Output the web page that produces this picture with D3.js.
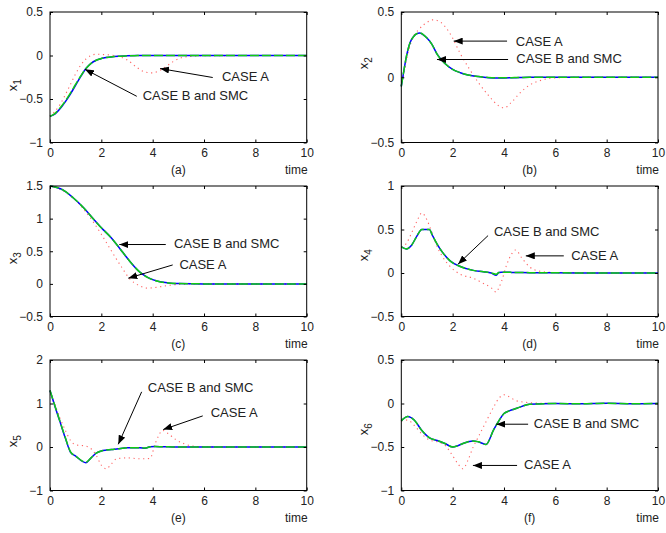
<!DOCTYPE html>
<html>
<head>
<meta charset="utf-8">
<script src="https://cdn.jsdelivr.net/npm/d3@7"></script>
<style>
  body { margin: 0; background: #fff; }
  svg { display: block; font-family: "Liberation Sans", Arial, Helvetica, sans-serif; }
</style>
</head>
<body>
<div class="container"></div>
<script>
const W = 666;
const H = 533;

// time ticks shared by every panel
const timeTicks = [0, 2, 4, 6, 8, 10];

// (a) x1
const timeA = [0, 0.2, 0.4, 0.6, 0.8, 1.0, 1.2, 1.4, 1.6, 1.8, 2.0, 2.5, 3.0, 3.4, 3.7, 4.0, 4.4, 4.8, 5.2, 6, 8, 10];
const x1CaseA = [-0.7, -0.64, -0.56, -0.45, -0.33, -0.21, -0.11, -0.04, 0.0, 0.015, 0.012, 0.0, -0.05, -0.14, -0.19, -0.2, -0.15, -0.07, -0.02, -0.003, 0, 0];
const x1Smc = [-0.7, -0.67, -0.61, -0.53, -0.44, -0.34, -0.24, -0.15, -0.09, -0.055, -0.035, -0.012, -0.004, -0.001, 0, 0, 0, 0, 0, 0, 0, 0];
const x1CaseB = [-0.7, -0.665, -0.6, -0.52, -0.43, -0.33, -0.235, -0.15, -0.09, -0.055, -0.035, -0.012, -0.004, -0.001, 0, 0, 0, 0, 0, 0, 0, 0];

// (b) x2
const timeB = [0, 0.1, 0.2, 0.4, 0.7, 1.0, 1.2, 1.4, 1.7, 2.0, 2.3, 2.6, 3.0, 3.4, 3.8, 4.0, 4.3, 4.6, 5.0, 5.5, 6, 7, 8, 10];
const x2CaseA = [-0.07, 0.03, 0.13, 0.28, 0.37, 0.42, 0.44, 0.435, 0.39, 0.3, 0.18, 0.08, -0.04, -0.14, -0.22, -0.235, -0.19, -0.125, -0.06, -0.02, -0.005, 0, 0, 0];
const x2Smc = [-0.07, 0.05, 0.16, 0.29, 0.34, 0.3, 0.25, 0.175, 0.105, 0.06, 0.035, 0.018, 0.005, -0.003, -0.005, -0.005, -0.004, -0.002, 0, 0, 0, 0, 0, 0];
const x2CaseB = [-0.07, 0.05, 0.16, 0.29, 0.34, 0.3, 0.25, 0.175, 0.105, 0.06, 0.035, 0.018, 0.005, -0.002, -0.004, -0.004, -0.003, -0.002, 0, 0, 0, 0, 0, 0];

// (c) x3
const timeC = [0, 0.5, 0.9, 1.3, 1.7, 2.0, 2.4, 2.8, 3.1, 3.5, 3.8, 4.2, 4.6, 5.0, 6, 8, 10];
const x3CaseA = [1.5, 1.43, 1.32, 1.15, 0.94, 0.76, 0.5, 0.25, 0.08, -0.03, -0.065, -0.05, -0.025, -0.008, 0, 0, 0];
const x3Smc = [1.5, 1.44, 1.32, 1.17, 0.99, 0.86, 0.7, 0.5, 0.35, 0.18, 0.1, 0.04, 0.015, 0.005, 0, 0, 0];
const x3CaseB = [1.5, 1.44, 1.32, 1.17, 0.99, 0.86, 0.7, 0.5, 0.35, 0.18, 0.1, 0.04, 0.015, 0.005, 0, 0, 0];

// (d) x4
const timeD = [0, 0.2, 0.4, 0.6, 0.8, 1.0, 1.1, 1.2, 1.4, 1.6, 1.9, 2.3, 2.8, 3.2, 3.5, 3.7, 3.8, 3.9, 4.1, 4.3, 4.45, 4.7, 5.0, 5.4, 6, 8, 10];
const x4CaseA = [0.3, 0.34, 0.46, 0.59, 0.69, 0.61, 0.54, 0.46, 0.3, 0.19, 0.075, -0.015, -0.06, -0.12, -0.17, -0.22, -0.17, -0.1, 0.09, 0.22, 0.265, 0.17, 0.07, 0.02, 0.005, 0, 0];
const x4Smc = [0.3, 0.277, 0.32, 0.42, 0.5, 0.5, 0.5, 0.44, 0.33, 0.24, 0.14, 0.075, 0.03, 0.015, 0.0, -0.025, 0.005, 0.008, 0.008, 0.007, 0.006, 0.005, 0.004, 0.003, 0.002, 0, 0];
const x4CaseB = [0.3, 0.277, 0.32, 0.42, 0.5, 0.5, 0.5, 0.44, 0.33, 0.24, 0.14, 0.075, 0.03, 0.015, 0.002, -0.015, 0.006, 0.008, 0.008, 0.007, 0.006, 0.005, 0.004, 0.003, 0.002, 0, 0];

// (e) x5
const timeE = [0, 0.2, 0.4, 0.6, 0.8, 1.0, 1.4, 1.6, 1.8, 2.0, 2.2, 2.4, 2.6, 3.0, 3.5, 3.7, 3.9, 4.1, 4.4, 4.6, 4.9, 5.2, 5.6, 6, 8, 10];
const x5CaseA = [1.3, 0.96, 0.65, 0.38, 0.15, 0.05, 0.02, -0.04, -0.19, -0.42, -0.5, -0.38, -0.27, -0.25, -0.27, -0.27, -0.26, 0.08, 0.38, 0.31, 0.17, 0.08, 0.02, 0.005, 0, 0];
const x5Smc = [1.3, 0.92, 0.56, 0.2, -0.12, -0.21, -0.36, -0.25, -0.14, -0.09, -0.07, -0.055, -0.045, -0.02, -0.015, -0.03, 0.005, 0.01, 0.005, 0.003, 0.002, 0, 0, 0, 0, 0];
const x5CaseB = [1.3, 0.93, 0.57, 0.21, -0.11, -0.21, -0.35, -0.25, -0.14, -0.09, -0.07, -0.055, -0.045, -0.02, -0.015, -0.025, 0.005, 0.01, 0.005, 0.003, 0.002, 0, 0, 0, 0, 0];

// (f) x6
const timeF = [0, 0.25, 0.5, 0.8, 1.1, 1.4, 1.7, 2.0, 2.2, 2.4, 2.6, 2.8, 3.0, 3.3, 3.6, 3.8, 4.0, 4.2, 4.5, 5.0, 6, 7, 8, 9, 10];
const x6CaseA = [-0.2, -0.19, -0.25, -0.35, -0.42, -0.44, -0.48, -0.6, -0.69, -0.75, -0.65, -0.5, -0.385, -0.21, -0.04, 0.06, 0.1, 0.077, 0.03, 0.01, 0, 0, 0, 0, 0];
const x6Smc = [-0.2, -0.15, -0.19, -0.31, -0.395, -0.425, -0.46, -0.5, -0.485, -0.46, -0.44, -0.43, -0.44, -0.47, -0.3, -0.2, -0.115, -0.085, -0.055, -0.01, 0, -0.003, 0.003, -0.002, 0];
const x6CaseB = [-0.2, -0.15, -0.19, -0.31, -0.395, -0.425, -0.46, -0.5, -0.485, -0.46, -0.44, -0.43, -0.44, -0.47, -0.3, -0.2, -0.115, -0.085, -0.055, -0.01, 0, -0.003, 0.003, -0.002, 0];

// y axis ranges and ticks
const yDomains = [[-1, 0.5], [-0.5, 0.5], [-0.5, 1.5], [-0.5, 1], [-1, 2], [-1, 0.5]];
const yTicks = [
    [-1, -0.5, 0, 0.5],
    [-0.5, 0, 0.5],
    [-0.5, 0, 0.5, 1, 1.5],
    [-0.5, 0, 0.5, 1],
    [-1, 0, 1, 2],
    [-1, -0.5, 0, 0.5]
];
const panelTags = ['(a)', '(b)', '(c)', '(d)', '(e)', '(f)'];
const stateIdx = ['1', '2', '3', '4', '5', '6'];

// annotations in data units: label position, arrow tail, arrow head
const notes = [
    [
        { text: 'CASE A', tx: 6.70, ty: -0.296, x1: 6.34, y1: -0.253, x2: 4.29, y2: -0.15 },
        { text: 'CASE B and SMC', tx: 3.61, ty: -0.515, x1: 3.38, y1: -0.469, x2: 1.36, y2: -0.158 }
    ],
    [
        { text: 'CASE A', tx: 4.46, ty: 0.242, x1: 4.12, y1: 0.277, x2: 2.04, y2: 0.277 },
        { text: 'CASE B and SMC', tx: 4.48, ty: 0.108, x1: 4.16, y1: 0.136, x2: 1.39, y2: 0.136 }
    ],
    [
        { text: 'CASE B and SMC', tx: 4.83, ty: 0.551, x1: 4.51, y1: 0.603, x2: 2.70, y2: 0.603 },
        { text: 'CASE A', tx: 5.04, ty: 0.229, x1: 4.78, y1: 0.29, x2: 3.05, y2: 0.087 }
    ],
    [
        { text: 'CASE B and SMC', tx: 3.61, ty: 0.42, x1: 3.38, y1: 0.43, x2: 2.21, y2: 0.102 },
        { text: 'CASE A', tx: 6.62, ty: 0.151, x1: 6.33, y1: 0.197, x2: 4.85, y2: 0.197 }
    ],
    [
        { text: 'CASE B and SMC', tx: 3.81, ty: 1.273, x1: 3.57, y1: 1.268, x2: 2.66, y2: 0.062 },
        { text: 'CASE A', tx: 6.26, ty: 0.685, x1: 5.95, y1: 0.715, x2: 4.41, y2: 0.401 }
    ],
    [
        { text: 'CASE B and SMC', tx: 5.16, ty: -0.285, x1: 4.94, y1: -0.238, x2: 3.70, y2: -0.238 },
        { text: 'CASE A', tx: 4.78, ty: -0.758, x1: 4.51, y1: -0.712, x2: 2.79, y2: -0.712 }
    ]
];

const panels = [
    { time: timeA, a: x1CaseA, s: x1Smc, b: x1CaseB },
    { time: timeB, a: x2CaseA, s: x2Smc, b: x2CaseB },
    { time: timeC, a: x3CaseA, s: x3Smc, b: x3CaseB },
    { time: timeD, a: x4CaseA, s: x4Smc, b: x4CaseB },
    { time: timeE, a: x5CaseA, s: x5Smc, b: x5CaseB },
    { time: timeF, a: x6CaseA, s: x6Smc, b: x6CaseB }
];

// layout
const colX = [50, 401.3];
const rowY = [12, 186, 360];
const pw = 256.7;
const ph = 130.5;
const ylabShift = [8, -14, 7, 4, 16, 4];

const svg = d3.select('.container')
    .append('svg')
    .attr('width', W)
    .attr('height', H);

svg.append('defs').append('marker')
    .attr('id', 'head')
    .attr('viewBox', '0 0 9 7')
    .attr('markerWidth', 9)
    .attr('markerHeight', 7)
    .attr('markerUnits', 'userSpaceOnUse')
    .attr('refX', 9)
    .attr('refY', 3.5)
    .attr('orient', 'auto')
    .append('path')
    .attr('d', 'M0,0 L9,3.5 L0,7 Z')
    .attr('fill', '#000');

const fmt = d => (d < 0 ? '\u2212' : '') + Math.abs(d);

panels.forEach((p, i) => {
    const col = i % 2;
    const row = Math.floor(i / 2);
    const g = svg.append('g')
        .attr('transform', `translate(${colX[col]},${rowY[row]})`);

    const x = d3.scaleLinear().domain([0, 10]).range([0, pw]);
    const y = d3.scaleLinear().domain(yDomains[i]).range([ph, 0]);

    const line = vals => d3.line()
        .x((d, k) => x(p.time[k]))
        .y(d => y(d))
        .curve(d3.curveMonotoneX)(vals);

    g.append('path')
        .attr('d', line(p.a))
        .attr('fill', 'none')
        .attr('stroke', '#ff3030')
        .attr('stroke-width', 1.1)
        .attr('stroke-dasharray', '1.2,3.6')
        .attr('opacity', 0.75);

    g.append('path')
        .attr('d', line(p.s))
        .attr('fill', 'none')
        .attr('stroke', '#0000ff')
        .attr('stroke-width', 1.5);

    g.append('path')
        .attr('d', line(p.b))
        .attr('fill', 'none')
        .attr('stroke', '#11cc11')
        .attr('stroke-width', 1.5)
        .attr('stroke-dasharray', '9,3');

    // box and ticks
    g.append('rect')
        .attr('width', pw)
        .attr('height', ph)
        .attr('fill', 'none')
        .attr('stroke', '#000')
        .attr('stroke-width', 1);

    const tl = 3;
    g.append('g')
        .attr('transform', `translate(0,${ph})`)
        .call(d3.axisBottom(x).tickValues(timeTicks).tickSize(-tl).tickPadding(6).tickFormat(fmt))
        .call(s => s.select('.domain').remove());
    g.append('g')
        .call(d3.axisTop(x).tickValues(timeTicks).tickSize(-tl).tickFormat(''))
        .call(s => s.select('.domain').remove());
    g.append('g')
        .call(d3.axisLeft(y).tickValues(yTicks[i]).tickSize(-tl).tickPadding(7).tickFormat(fmt))
        .call(s => s.select('.domain').remove());
    g.append('g')
        .attr('transform', `translate(${pw},0)`)
        .call(d3.axisRight(y).tickValues(yTicks[i]).tickSize(-tl).tickFormat(''))
        .call(s => s.select('.domain').remove());

    g.selectAll('.tick text')
        .attr('font-size', 12)
        .attr('font-family', '"Liberation Sans", Arial, sans-serif')
        .attr('fill', '#222');
    g.selectAll('.tick line').attr('stroke', '#000');

    // labels
    g.append('text')
        .attr('x', pw + 1)
        .attr('y', ph + 31)
        .attr('text-anchor', 'end')
        .attr('font-size', 12)
        .attr('fill', '#222')
        .text('time');

    g.append('text')
        .attr('x', pw / 2)
        .attr('y', ph + 31)
        .attr('text-anchor', 'middle')
        .attr('font-size', 12)
        .attr('fill', '#222')
        .text(panelTags[i]);

    const yl = g.append('text')
        .attr('transform', `translate(-33,${ph / 2 + ylabShift[i]}) rotate(-90)`)
        .attr('text-anchor', 'middle')
        .attr('font-size', 13)
        .attr('fill', '#222');
    yl.append('tspan').text('x');
    yl.append('tspan').attr('font-size', 10).attr('dy', 4).text(stateIdx[i]);

    // annotations
    notes[i].forEach(n => {
        g.append('line')
            .attr('x1', x(n.x1)).attr('y1', y(n.y1))
            .attr('x2', x(n.x2)).attr('y2', y(n.y2))
            .attr('stroke', '#000')
            .attr('stroke-width', 1)
            .attr('marker-end', 'url(#head)');
        g.append('text')
            .attr('x', x(n.tx))
            .attr('y', y(n.ty))
            .attr('font-size', 13)
            .attr('fill', '#222')
            .text(n.text);
    });
});
</script>
</body>
</html>
